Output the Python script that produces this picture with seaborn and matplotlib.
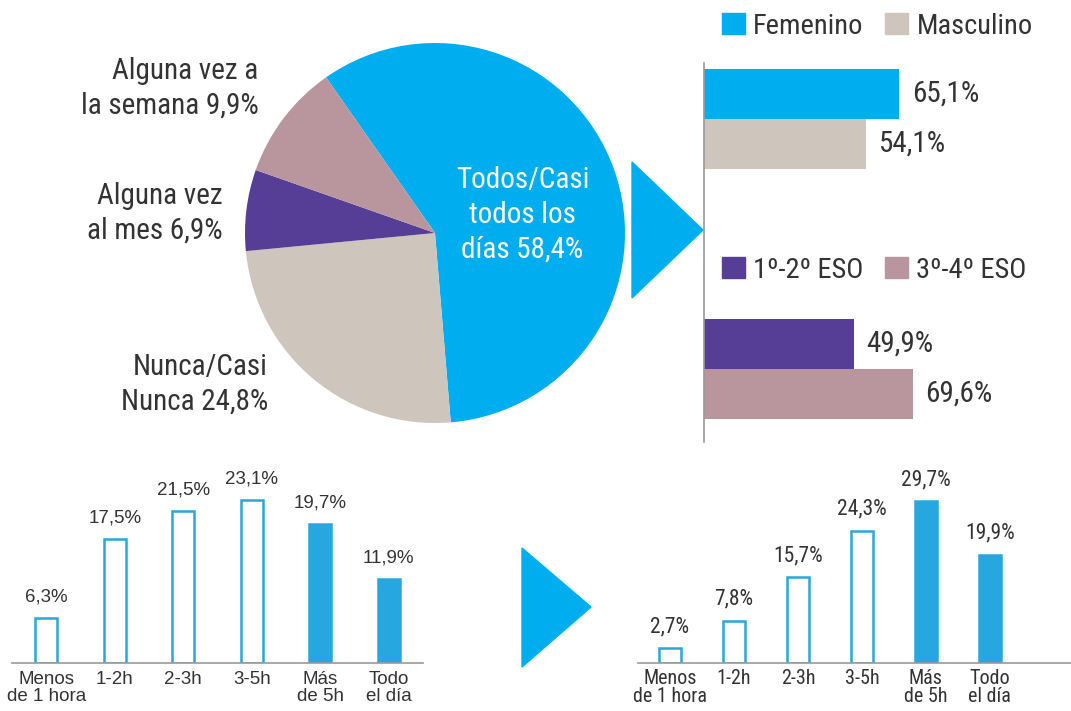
import numpy as np
import pandas as pd
import matplotlib
matplotlib.use("Agg")
import matplotlib.pyplot as plt
import seaborn as sns
from matplotlib import font_manager
from matplotlib.font_manager import FontProperties
from matplotlib.patches import Patch, Polygon

# ==============================
# Data
# ==============================
pie_labels = ["Todos/Casi\ntodos los\ndías", "Nunca/Casi\nNunca", "Alguna vez\nal mes", "Alguna vez a\nla semana"]
pie_values = [58.4, 24.8, 6.9, 9.9]

sexo = ["Femenino", "Masculino"]
sexo_values = [65.1, 54.1]
curso = ["1º-2º ESO", "3º-4º ESO"]
curso_values = [49.9, 69.6]

horas = ["Menos\nde 1 hora", "1-2h", "2-3h", "3-5h", "Más\nde 5h", "Todo\nel día"]
horas_izq = [6.3, 17.5, 21.5, 23.1, 19.7, 11.9]
horas_der = [2.7, 7.8, 15.7, 24.3, 29.7, 19.9]
destacadas = ["Más\nde 5h", "Todo\nel día"]

# ==============================
# Style / fonts
# ==============================
sns.set_style("white")
plt.rcParams["font.family"] = ["Liberation Sans", "DejaVu Sans"]

# look for a narrow face, the original uses a condensed grotesque
candidates = [
    ("Liberation Sans Narrow", 22),
    ("Roboto Condensed", 21),
    ("Noto Sans", 20),
    ("Open Sans", 20),
    ("DejaVu Sans", 18),
]
narrow_file, BIG = None, 18
for fam, size in candidates:
    for f in font_manager.fontManager.ttflist:
        fname = f.fname.lower()
        condensed = f.stretch in ("condensed", "semi-condensed") or "condensed" in fname or "narrow" in fname
        if f.name == fam and condensed and f.weight in (400, "normal", "regular") and f.style == "normal":
            if "semi" in fname or "extra" in fname or "ultra" in fname:
                continue
            narrow_file, BIG = f.fname, size
            break
    if narrow_file:
        break
if not narrow_file:
    BIG = 22


def narrow(size):
    if narrow_file:
        return FontProperties(fname=narrow_file, size=size)
    return FontProperties(family=["Liberation Sans", "DejaVu Sans"], size=size * 0.82)


def regular(size):
    return FontProperties(family=["Liberation Sans", "DejaVu Sans"], size=size)


BLUE = "#00AEEF"
BAR_BLUE = "#27A7DF"
BEIGE = "#CEC5BC"
PURPLE = "#563E97"
PINK = "#B9969D"
TEXT = "#333333"
AXIS = "#9a9a9a"

W, H = 1071, 711
fig = plt.figure(figsize=(W / 100, H / 100), dpi=100)


def box(l, t, r, b):
    return [l / W, 1 - b / H, (r - l) / W, (b - t) / H]


def fmt(v):
    return f"{v:.1f}%".replace(".", ",")


# ==============================
# Pie
# ==============================
ax_pie = fig.add_axes(box(245, 43, 625, 423))
ax_pie.pie(
    pie_values,
    colors=[BLUE, BEIGE, PURPLE, PINK],
    startangle=125,
    counterclock=False,
    wedgeprops=dict(linewidth=0),
)
ax_pie.set_xlim(-1, 1)
ax_pie.set_ylim(-1, 1)
ax_pie.set_aspect("equal")
ax_pie.axis("off")

label_pos = [(0.46, 0.095, "center"), (-0.88, -0.795, "right"),
             (-1.12, 0.105, "right"), (-0.93, 0.76, "right")]
for (x, y, ha), lab, val in zip(label_pos, pie_labels, pie_values):
    ax_pie.text(
        x, y, f"{lab} {fmt(val)}",
        ha=ha, va="center", multialignment=ha,
        fontproperties=narrow(BIG), linespacing=1.3,
        color="white" if ha == "center" else TEXT,
    )

# ==============================
# Horizontal bars (sexo / curso)
# ==============================
ax_h = fig.add_axes(box(704, 63, 1071, 442))
hb = pd.DataFrame({"grupo": sexo + curso, "valor": sexo_values + curso_values})
order = sexo + [" ", "  ", "   "] + curso
sns.barplot(
    data=hb, x="valor", y="grupo", order=order,
    hue="grupo", palette=dict(zip(sexo + curso, [BLUE, BEIGE, PURPLE, PINK])),
    width=1.0, saturation=1, legend=False, orient="h", ax=ax_h,
    linewidth=0,
)
for c in ax_h.containers:
    ax_h.bar_label(c, fmt=fmt, padding=9, fontproperties=narrow(BIG), color=TEXT)
ax_h.set_xlim(0, 367 / 3.0)
ax_h.set_ylim(6.96, -0.62)
ax_h.set_xticks([])
ax_h.set_yticks([])
ax_h.set_xlabel("")
ax_h.set_ylabel("")
for s in ["top", "right", "bottom"]:
    ax_h.spines[s].set_visible(False)
ax_h.spines["left"].set_color(AXIS)
ax_h.spines["left"].set_linewidth(1.2)

leg_kw = dict(
    loc="center left", ncol=2, frameon=False, borderpad=0, borderaxespad=0,
    handlelength=0.8, handleheight=0.8, handletextpad=0.3, columnspacing=0.75,
    prop=narrow(BIG - 0.5), labelcolor=TEXT,
)
fig.legend(handles=[Patch(color=BLUE, label=sexo[0]), Patch(color=BEIGE, label=sexo[1])],
           bbox_to_anchor=(722 / W, 1 - 26 / H), **leg_kw)
fig.legend(handles=[Patch(color=PURPLE, label=curso[0]), Patch(color=PINK, label=curso[1])],
           bbox_to_anchor=(722 / W, 1 - 270 / H), **leg_kw)

# ==============================
# Bottom bar charts
# ==============================
def hour_bars(ax, values, scale_top, width, fp_val, fp_tick, pad, tick_pad):
    sns.barplot(x=horas, y=values, color="white", saturation=1,
                edgecolor=BAR_BLUE, linewidth=1.8, width=width, ax=ax)
    for bar, cat in zip(ax.patches, horas):
        if cat in destacadas:
            bar.set_facecolor(BAR_BLUE)
    ax.bar_label(ax.containers[0], labels=[fmt(v) for v in values],
                 padding=pad, fontproperties=fp_val, color=TEXT)
    ax.set_ylim(0, scale_top)
    ax.set_yticks([])
    ax.set_xlabel("")
    ax.set_ylabel("")
    ax.tick_params(axis="x", length=0, pad=tick_pad, labelcolor=TEXT)
    for t in ax.get_xticklabels():
        t.set_fontproperties(fp_tick)
        t.set_linespacing(0.95)
    for s in ["top", "right", "left"]:
        ax.spines[s].set_visible(False)
    ax.spines["bottom"].set_color(AXIS)
    ax.spines["bottom"].set_linewidth(1.2)


ax_l = fig.add_axes(box(12, 451, 423, 663))
hour_bars(ax_l, horas_izq, 30, 0.32, regular(13.5), regular(13.5), 9, 6)
ax_l.set_xlim(-0.5, 5.5)

ax_r = fig.add_axes(box(638, 456, 1071, 663))
hour_bars(ax_r, horas_der, 38, 0.34, narrow(15.5), narrow(14.5), 8, 4)
ax_r.set_xlim(-0.5, 6.27)

# ==============================
# Arrows
# ==============================
for pts in ([(632, 162), (632, 298), (703, 230)],
            [(522, 548), (522, 667), (591, 607)]):
    fig.add_artist(Polygon([(x / W, 1 - y / H) for x, y in pts],
                           closed=True, color=BLUE, transform=fig.transFigure))

fig.savefig("out.png", dpi=100)
plt.close()
